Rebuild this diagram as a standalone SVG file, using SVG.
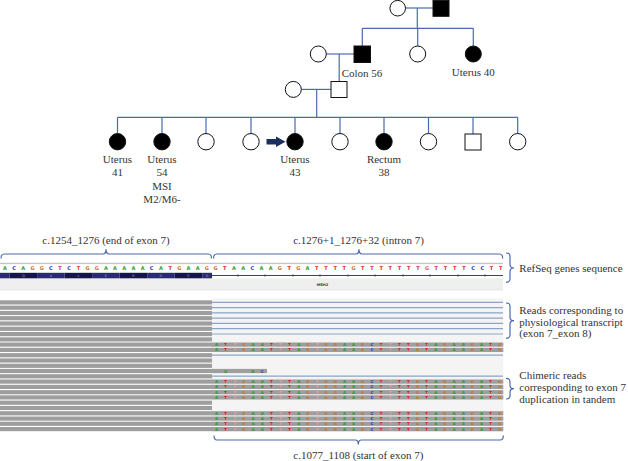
<svg xmlns="http://www.w3.org/2000/svg" width="628" height="461" viewBox="0 0 628 461">
<style>
.ln{stroke:#4a6ab0;stroke-width:1.2;fill:none}
.ind{stroke:#111;stroke-width:1;fill:#fff}
.aff{stroke:#111;stroke-width:1;fill:#000}
.lbl{font-family:"Liberation Serif",serif;font-size:11px;fill:#333;text-anchor:middle}
.rl{font-family:"Liberation Serif",serif;font-size:11px;fill:#333}
.br{stroke:#4a6ab0;stroke-width:1.2;fill:none}
.nt{font-family:"DejaVu Sans",sans-serif;font-weight:bold;font-size:5px;text-anchor:middle}
.rn{font-family:"DejaVu Sans",sans-serif;font-weight:bold;font-size:4px;text-anchor:middle}
.A{fill:#2a9a2a}.C{fill:#2233bb}.G{fill:#c8721c}.T{fill:#dd2222}.t{fill:#e59a9a}
.rd{fill:#9e9e9e}
.sp{stroke:#8aa5c6;stroke-width:1.2}
.aa{font-family:"DejaVu Sans",sans-serif;font-size:3.5px;fill:#9aa0c8;text-anchor:middle}
</style>
<defs>
<g id="chim" class="rn">
<text x="216.5" class="A">A</text><text x="225.6" class="T">T</text><text x="234.8" class="t">T</text><text x="243.9" class="G">G</text>
<text x="253.1" class="A">A</text><text x="262.2" class="A">A</text><text x="271.3" class="T">T</text><text x="280.5" class="t">T</text>
<text x="289.6" class="T">T</text><text x="298.8" class="A">A</text><text x="307.9" class="G">G</text><text x="317" class="t">T</text>
<text x="326.2" class="G">G</text><text x="335.3" class="G">G</text><text x="344.5" class="A">A</text><text x="353.6" class="A">A</text>
<text x="362.7" class="G">G</text><text x="371.9" class="C">C</text><text x="381" class="T">T</text><text x="390.2" class="t">T</text>
<text x="399.3" class="T">T</text><text x="408.4" class="T">T</text><text x="417.6" class="G">G</text><text x="426.7" class="T">T</text>
<text x="435.9" class="A">A</text><text x="445" class="G">G</text><text x="454.1" class="A">A</text><text x="463.3" class="A">A</text>
<text x="472.4" class="G">G</text><text x="481.6" class="A">A</text><text x="490.7" class="T">T</text><text x="499.8" class="G">G</text>
</g>
</defs>
<rect width="628" height="461" fill="#fff"/>

<!-- pedigree connectors -->
<g id="pedigree-connectors" class="ln">
<line x1="405.7" y1="8" x2="433" y2="8"/>
<line x1="417.3" y1="8" x2="417.3" y2="28.3"/>
<line x1="362.3" y1="28.3" x2="473.3" y2="28.3"/>
<line x1="362.3" y1="28.3" x2="362.3" y2="46"/>
<line x1="417.7" y1="28.3" x2="417.7" y2="46"/>
<line x1="473.3" y1="28.3" x2="473.3" y2="46"/>
<line x1="326.3" y1="54" x2="354" y2="54"/>
<line x1="339.2" y1="54" x2="339.2" y2="81.5"/>
<line x1="301.3" y1="89.4" x2="331" y2="89.4"/>
<line x1="316.7" y1="89.4" x2="316.7" y2="117.3"/>
<line x1="117.5" y1="117.3" x2="517.7" y2="117.3"/>
<line x1="117.5" y1="117.3" x2="117.5" y2="133.4"/>
<line x1="162" y1="117.3" x2="162" y2="133.4"/>
<line x1="206" y1="117.3" x2="206" y2="133.4"/>
<line x1="251" y1="117.3" x2="251" y2="133.4"/>
<line x1="295" y1="117.3" x2="295" y2="133.4"/>
<line x1="340" y1="117.3" x2="340" y2="133.4"/>
<line x1="384" y1="117.3" x2="384" y2="133.4"/>
<line x1="428.5" y1="117.3" x2="428.5" y2="133.4"/>
<line x1="473" y1="117.3" x2="473" y2="134"/>
<line x1="517.7" y1="117.3" x2="517.7" y2="133.4"/>
</g>

<!-- generation I -->
<g id="I-1"><circle class="ind" cx="397.7" cy="8.2" r="7.8"/></g>
<g id="I-2"><rect class="aff" x="433" y="0.3" width="16" height="16"/></g>
<!-- generation II -->
<g id="II-1"><circle class="ind" cx="318.3" cy="54" r="8"/></g>
<g id="II-2"><rect class="aff" x="354" y="46" width="16.5" height="16.5"/><text class="lbl" x="362" y="76.5">Colon 56</text></g>
<g id="II-3"><circle class="ind" cx="417.7" cy="54" r="8"/></g>
<g id="II-4"><circle class="aff" cx="473.3" cy="54" r="8"/><text class="lbl" x="473.3" y="76">Uterus 40</text></g>
<!-- generation III -->
<g id="III-1"><circle class="ind" cx="293.3" cy="89.4" r="8"/></g>
<g id="III-2"><rect class="ind" x="331" y="81.5" width="16" height="16"/></g>
<!-- generation IV -->
<g id="IV-1"><circle class="aff" cx="117.5" cy="141.7" r="8.2"/><text class="lbl" x="117.5" y="163">Uterus</text><text class="lbl" x="117.5" y="176.4">41</text></g>
<g id="IV-2"><circle class="aff" cx="162" cy="141.7" r="8.2"/><text class="lbl" x="162" y="163">Uterus</text><text class="lbl" x="162" y="176.4">54</text><text class="lbl" x="162" y="189.8">MSI</text><text class="lbl" x="162" y="203.2">M2/M6-</text></g>
<g id="IV-3"><circle class="ind" cx="206" cy="141.7" r="8.2"/></g>
<g id="IV-4"><circle class="ind" cx="251" cy="141.7" r="8.2"/></g>
<g id="IV-5"><circle class="aff" cx="295" cy="141.7" r="8.2"/><text class="lbl" x="295" y="163">Uterus</text><text class="lbl" x="295" y="176.4">43</text>
<polygon points="266.5,139 276,139 276,136.5 285.5,141.7 276,147 276,144.5 266.5,144.5" fill="#1c2e5c"/></g>
<g id="IV-6"><circle class="ind" cx="340" cy="141.7" r="8.2"/></g>
<g id="IV-7"><circle class="aff" cx="384" cy="141.7" r="8.2"/><text class="lbl" x="384" y="163">Rectum</text><text class="lbl" x="384" y="176.4">38</text></g>
<g id="IV-8"><circle class="ind" cx="428.5" cy="141.7" r="8.2"/></g>
<g id="IV-9"><rect class="ind" x="465" y="134" width="16" height="16"/></g>
<g id="IV-10"><circle class="ind" cx="517.7" cy="141.7" r="8.2"/></g>

<!-- region labels and braces -->
<g id="labels">
<text class="lbl" x="106" y="243.5">c.1254_1276 (end of exon 7)</text>
<text class="lbl" x="358.5" y="243.5">c.1276+1_1276+32 (intron 7)</text>
<text class="lbl" x="358.3" y="459">c.1077_1108 (start of exon 7)</text>
<text class="rl" x="519.3" y="272">RefSeq genes sequence</text>
<text class="rl" x="519.3" y="314">Reads corresponding to</text>
<text class="rl" x="519.3" y="325.6">physiological transcript</text>
<text class="rl" x="519.3" y="337.2">(exon 7_exon 8)</text>
<text class="rl" x="519.3" y="378.7">Chimeric reads</text>
<text class="rl" x="519.3" y="390.9">corresponding to exon 7</text>
<text class="rl" x="519.3" y="403.1">duplication in tandem</text>
</g>
<g id="braces" class="br">
<path d="M1,258.5 Q1,254 4,254 L103,254 Q106,254 106,249.3 Q106,254 109,254 L208.5,254 Q211.5,254 211.5,258.5"/>
<path d="M213.5,258.5 Q213.5,254 216.5,254 L356,254 Q359,254 359,249.3 Q359,254 362,254 L499.7,254 Q502.7,254 502.7,258.5"/>
<path d="M214,435.5 Q214,440 217,440 L355.3,440 Q358.3,440 358.3,444.5 Q358.3,440 361.3,440 L500.3,440 Q503.3,440 503.3,435.5"/>
<path d="M506,253 Q510,253 510,256 L510,264.5 Q510,268 514,268 Q510,268 510,271.5 L510,279 Q510,282.3 506,282.3"/>
<path d="M506,303 Q510,303 510,306 L510,317.2 Q510,320.7 514,320.7 Q510,320.7 510,324.2 L510,335.3 Q510,338.3 506,338.3"/>
<path d="M506,378.3 Q510,378.3 510,381.3 L510,385.2 Q510,388.7 514,388.7 Q510,388.7 510,392.2 L510,396 Q510,399 506,399"/>
</g>

<!-- sequence track -->
<g id="refseq">
<rect x="0" y="262.8" width="503" height="1.3" fill="#c4c4c4"/>
<rect x="0" y="278.3" width="503" height="11.5" fill="#efefef"/>
<rect x="0" y="289.5" width="503" height="0.8" fill="#dcdcdc"/>
<rect x="0" y="272.8" width="9.6" height="5.5" fill="#2a2a72"/>
<rect x="9.6" y="272.8" width="27.5" height="5.5" fill="#15154a"/>
<rect x="37.1" y="272.8" width="27.5" height="5.5" fill="#2a2a72"/>
<rect x="64.6" y="272.8" width="27.5" height="5.5" fill="#15154a"/>
<rect x="92.1" y="272.8" width="27.5" height="5.5" fill="#2a2a72"/>
<rect x="119.6" y="272.8" width="27.6" height="5.5" fill="#15154a"/>
<rect x="147.2" y="272.8" width="27.5" height="5.5" fill="#2a2a72"/>
<rect x="174.7" y="272.8" width="27.5" height="5.5" fill="#15154a"/>
<rect x="202.2" y="272.8" width="9.8" height="5.5" fill="#2a2a72"/>
<line x1="212" y1="275.5" x2="503" y2="275.5" stroke="#3a3a8a" stroke-width="1"/>
<g stroke="#3a3a8a" stroke-width="0.6">
<line x1="238" y1="274" x2="238" y2="277"/><line x1="265" y1="274" x2="265" y2="277"/><line x1="293" y1="274" x2="293" y2="277"/><line x1="320" y1="274" x2="320" y2="277"/><line x1="348" y1="274" x2="348" y2="277"/><line x1="375" y1="274" x2="375" y2="277"/><line x1="403" y1="274" x2="403" y2="277"/><line x1="430" y1="274" x2="430" y2="277"/><line x1="458" y1="274" x2="458" y2="277"/><line x1="485" y1="274" x2="485" y2="277"/>
</g>
<g class="aa"><text x="23.3" y="276.8">Q</text><text x="50.9" y="276.8">A</text><text x="78.4" y="276.8">L</text><text x="105.9" y="276.8">E</text><text x="133.4" y="276.8">K</text><text x="160.9" y="276.8">H</text><text x="188.4" y="276.8">E</text><text x="207" y="276.8">G</text></g>
<text x="322.5" y="286" font-family="DejaVu Sans,sans-serif" font-size="3.6" font-weight="bold" fill="#333" text-anchor="middle">MSH2</text>
<g class="nt">
<text x="5" y="270.3" class="A">A</text><text x="14.2" y="270.3" class="C">C</text><text x="23.3" y="270.3" class="A">A</text><text x="32.5" y="270.3" class="G">G</text><text x="41.7" y="270.3" class="G">G</text><text x="50.9" y="270.3" class="C">C</text><text x="60" y="270.3" class="T">T</text><text x="69.2" y="270.3" class="C">C</text><text x="78.4" y="270.3" class="T">T</text><text x="87.5" y="270.3" class="G">G</text><text x="96.7" y="270.3" class="G">G</text><text x="105.9" y="270.3" class="A">A</text><text x="115" y="270.3" class="A">A</text><text x="124.2" y="270.3" class="A">A</text><text x="133.4" y="270.3" class="A">A</text><text x="142.6" y="270.3" class="A">A</text><text x="151.7" y="270.3" class="C">C</text><text x="160.9" y="270.3" class="A">A</text><text x="170.1" y="270.3" class="T">T</text><text x="179.2" y="270.3" class="G">G</text><text x="188.4" y="270.3" class="A">A</text><text x="197.6" y="270.3" class="A">A</text><text x="206.7" y="270.3" class="G">G</text>
<text x="215.5" y="270.3" class="G">G</text><text x="224.7" y="270.3" class="T">T</text><text x="233.9" y="270.3" class="A">A</text><text x="243.1" y="270.3" class="A">A</text><text x="252.3" y="270.3" class="C">C</text><text x="261.5" y="270.3" class="A">A</text><text x="270.7" y="270.3" class="A">A</text><text x="279.9" y="270.3" class="G">G</text><text x="289.1" y="270.3" class="T">T</text><text x="298.3" y="270.3" class="G">G</text><text x="307.5" y="270.3" class="A">A</text><text x="316.7" y="270.3" class="T">T</text><text x="325.9" y="270.3" class="T">T</text><text x="335.1" y="270.3" class="T">T</text><text x="344.3" y="270.3" class="T">T</text><text x="353.5" y="270.3" class="G">G</text><text x="362.7" y="270.3" class="T">T</text><text x="371.9" y="270.3" class="T">T</text><text x="381.1" y="270.3" class="T">T</text><text x="390.3" y="270.3" class="T">T</text><text x="399.5" y="270.3" class="T">T</text><text x="408.7" y="270.3" class="T">T</text><text x="417.9" y="270.3" class="T">T</text><text x="427.1" y="270.3" class="G">G</text><text x="436.3" y="270.3" class="T">T</text><text x="445.5" y="270.3" class="T">T</text><text x="454.7" y="270.3" class="T">T</text><text x="463.9" y="270.3" class="T">T</text><text x="473.1" y="270.3" class="C">C</text><text x="482.3" y="270.3" class="C">C</text><text x="491.5" y="270.3" class="T">T</text><text x="500.7" y="270.3" class="T">T</text>
</g>
</g>

<!-- reads -->
<g id="reads">
<rect x="212" y="298.5" width="291.3" height="133.5" fill="#f4f4f4"/>
<g class="rd">
<rect x="0" y="300.3" width="212" height="4.2"/><rect x="0" y="305.6" width="212" height="4.2"/><rect x="0" y="310.9" width="212" height="4.2"/><rect x="0" y="316.1" width="212" height="4.2"/><rect x="0" y="321.4" width="212" height="4.2"/>
<rect x="0" y="326.7" width="212" height="4.2"/><rect x="0" y="332" width="212" height="4.2"/><rect x="0" y="337.3" width="212" height="4.2"/><rect x="0" y="342.5" width="503.3" height="4.2"/><rect x="0" y="347.8" width="503.3" height="4.2"/>
<rect x="0" y="353.1" width="212" height="4.2"/><rect x="0" y="358.4" width="212" height="4.2"/><rect x="0" y="363.7" width="212" height="4.2"/><rect x="0" y="368.9" width="267" height="4.2"/><rect x="0" y="374.2" width="212" height="4.2"/>
<rect x="0" y="379.5" width="503.3" height="4.2"/><rect x="0" y="384.8" width="503.3" height="4.2"/><rect x="0" y="390.1" width="503.3" height="4.2"/><rect x="0" y="395.3" width="503.3" height="4.2"/><rect x="0" y="400.6" width="212" height="4.2"/>
<rect x="0" y="405.9" width="212" height="4.2"/><rect x="0" y="411.2" width="503.3" height="4.2"/><rect x="0" y="416.5" width="503.3" height="4.2"/><rect x="0" y="421.7" width="503.3" height="4.2"/><rect x="0" y="427" width="503.3" height="4.2"/>
</g>
<g class="sp">
<line x1="212" y1="302.3" x2="503" y2="302.3"/><line x1="212" y1="307.6" x2="503" y2="307.6"/><line x1="212" y1="312.9" x2="503" y2="312.9"/><line x1="212" y1="318.1" x2="503" y2="318.1"/><line x1="212" y1="323.4" x2="503" y2="323.4"/><line x1="212" y1="328.7" x2="503" y2="328.7"/><line x1="212" y1="334" x2="503" y2="334"/>
<line x1="212" y1="355.1" x2="503" y2="355.1"/><line x1="212" y1="376.2" x2="503" y2="376.2"/>
</g>
<use href="#chim" y="346.1"/><use href="#chim" y="351.4"/>
<use href="#chim" y="383.1"/><use href="#chim" y="388.4"/><use href="#chim" y="393.7"/><use href="#chim" y="398.9"/>
<use href="#chim" y="414.8"/><use href="#chim" y="420.1"/><use href="#chim" y="425.3"/><use href="#chim" y="430.6"/>
<g class="rn"><text x="225.6" y="372.5" class="A">A</text><text x="252.7" y="372.5" class="A">A</text><text x="262.3" y="372.5" class="C">C</text></g>
</g>
</svg>
